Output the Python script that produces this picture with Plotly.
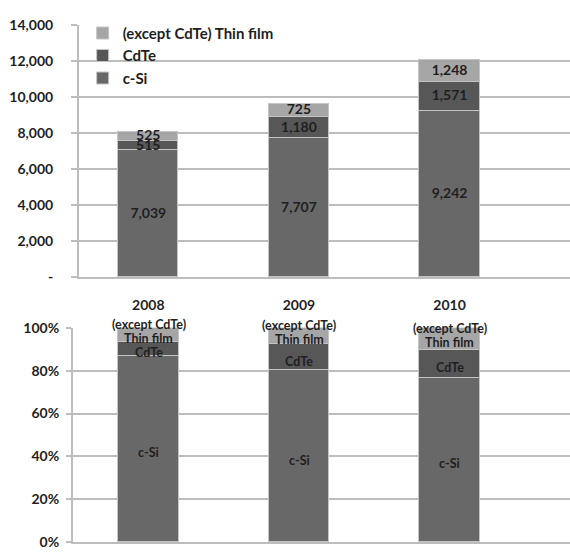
import plotly.graph_objects as go

# Shipments by technology (MW)
years = ["2008", "2009", "2010"]
series_names = ["c-Si", "CdTe", "(except CdTe) Thin film"]
csi = [7039, 7707, 9242]
cdte = [515, 1180, 1571]
thin_film = [525, 725, 1248]

y_ticks_top = [0, 2000, 4000, 6000, 8000, 10000, 12000, 14000]
y_ticks_bottom = [0, 20, 40, 60, 80, 100]

colors = ["#686868", "#575757", "#a6a6a6"]
grid = "#bdbdbd"
txt = "#1f1f1f"
FONT = "Lato"

series = [csi, cdte, thin_film]
totals = [sum(v) for v in zip(*series)]
shares = [[v / t * 100 for v, t in zip(s, totals)] for s in series]

xs = list(range(len(years)))
fig = go.Figure()

# stacked absolute values (top panel)
base = [0] * len(years)
for name, vals, col in zip(series_names, series, colors):
    fig.add_trace(go.Bar(x=xs, y=vals, name=name, marker=dict(color=col, line=dict(color="#c4c4c4", width=1)),
                         width=0.40, xaxis="x", yaxis="y", showlegend=True))
    centers = [b + v / 2 for b, v in zip(base, vals)]
    fig.add_trace(go.Scatter(x=xs, y=centers, mode="text", text=[f"{v:,}" for v in vals],
                             textfont=dict(family=FONT, size=14, color=txt, weight="bold"),
                             cliponaxis=False, xaxis="x", yaxis="y", showlegend=False, hoverinfo="skip"))
    base = [b + v for b, v in zip(base, vals)]

# stacked shares (bottom panel), labelled with the technology name
lab_font = dict(family=FONT, size=12.5, color=txt, weight="bold")
base = [0] * len(years)
annotations = []
for name, vals, col in zip(series_names, shares, colors):
    fig.add_trace(go.Bar(x=xs, y=vals, name=name, marker=dict(color=col, line=dict(color="#c4c4c4", width=1)),
                         width=0.40, xaxis="x2", yaxis="y2", showlegend=False))
    for x, b, v in zip(xs, base, vals):
        c = b + v / 2
        if name.startswith("(except"):
            annotations.append(dict(x=x, y=c, xref="x2", yref="y2", text="Thin film", showarrow=False,
                                    font=lab_font, yshift=-4))
            annotations.append(dict(x=x, y=c, xref="x2", yref="y2", text="(except CdTe)", showarrow=False,
                                    font=lab_font, yshift=10))
        else:
            annotations.append(dict(x=x, y=c, xref="x2", yref="y2", text=name, showarrow=False,
                                    font=lab_font, yshift=-4))
    base = [b + v for b, v in zip(base, vals)]

W, H = 570, 552
top_x0, bot_x0 = 79 / W, 73 / W
axfont = dict(family=FONT, size=14, color=txt, weight="bold")

fig.update_layout(
    width=W, height=H, margin=dict(l=0, r=0, t=0, b=0),
    paper_bgcolor="white", plot_bgcolor="white",
    barmode="stack", bargap=0,
    font=dict(family=FONT, color=txt),
    annotations=annotations,
    legend=dict(x=0.145, y=1 - 8 / H, xanchor="left", yanchor="top", traceorder="reversed",
                font=dict(family=FONT, size=15, color=txt, weight="bold"),
                bgcolor="rgba(0,0,0,0)", itemwidth=30, tracegroupgap=0),
    xaxis=dict(domain=[top_x0, 1], anchor="y", range=[-0.46, 2.8], tickvals=xs, ticktext=years,
               ticks="", showline=True, linecolor=grid, linewidth=2, showgrid=False, zeroline=False,
               tickfont=axfont, ticklabelstandoff=14),
    xaxis3=dict(overlaying="x", anchor="y", range=[-0.46, 2.8], tickvals=[-0.46, 0.5, 1.5],
                ticktext=["", "", ""], ticks="outside", ticklen=6, tickwidth=2, tickcolor=grid,
                showline=False, showgrid=False, zeroline=False, side="bottom"),
    yaxis=dict(domain=[1 - 277 / H, 1 - 17 / H], anchor="x", range=[0, 14000], tickvals=y_ticks_top,
               ticktext=[f"{v:,}" if v else "-" for v in y_ticks_top],
               showgrid=True, gridcolor=grid, gridwidth=2, showline=True, linecolor=grid, linewidth=2,
               ticks="outside", ticklen=6, tickwidth=2, tickcolor=grid, zeroline=False,
               tickfont=axfont, ticklabelstandoff=15),
    xaxis2=dict(domain=[bot_x0, 1], anchor="y2", range=[-0.502, 2.8], tickvals=xs, ticktext=["", "", ""],
                ticks="", showline=True, linecolor=grid, linewidth=2, showgrid=False, zeroline=False),
    yaxis2=dict(domain=[1 - 550 / H, 1 - 329 / H], anchor="x2", range=[0, 100], tickvals=y_ticks_bottom,
                ticktext=[f"{v}%" for v in y_ticks_bottom],
                showgrid=True, gridcolor=grid, gridwidth=2, showline=True, linecolor=grid,
                linewidth=2, ticks="outside", ticklen=5, tickwidth=2, tickcolor=grid, zeroline=False,
                tickfont=axfont, ticklabelstandoff=4),
)

fig.write_html("out.html")
